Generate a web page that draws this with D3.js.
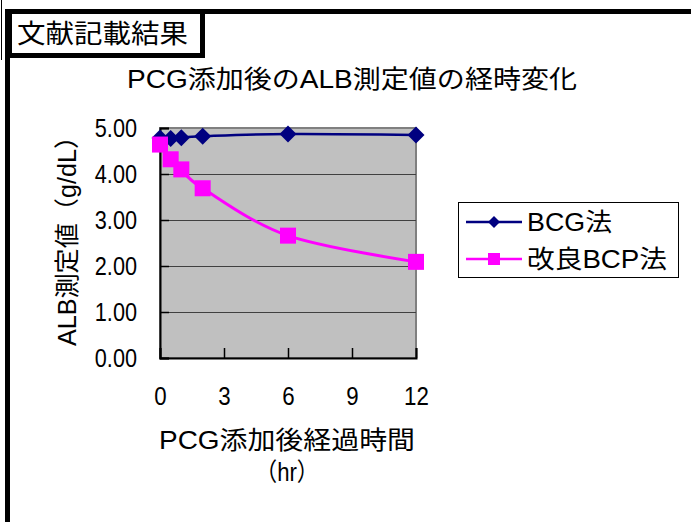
<!DOCTYPE html>
<html>
<head>
<meta charset="utf-8">
<script src="https://cdn.jsdelivr.net/npm/d3@7"></script>
<style>
  html, body { margin: 0; padding: 0; background: #fff; }
  svg { display: block; }
  text { font-family: "Liberation Sans", Arial, "Noto Sans CJK JP", sans-serif; fill: #000; }
</style>
</head>
<body>
<svg id="chart" width="691" height="522"></svg>
<script>
// Elapsed time after PCG addition (hours)
const hours = [0, 0.5, 1, 2, 6, 12];
// ALB measurement (g/dL) for each method
const bcgValues = [4.78, 4.77, 4.79, 4.82, 4.87, 4.85];
const bcpValues = [4.64, 4.32, 4.10, 3.69, 2.66, 2.09];
const seriesNames = ["BCG法", "改良BCP法"];
const yTicks = [0, 1, 2, 3, 4, 5];
const xTicks = [0, 3, 6, 9, 12];
const headerText = "文献記載結果";
const titleText = "PCG添加後のALB測定値の経時変化";
const yTitleText = "ALB測定値（g/dL）";
const xTitleText = "PCG添加後経過時間";
const xUnitText = "（hr）";

const svg = d3.select("#chart");

// page frame: double rule on the left, heavy rule across the top
svg.append("line").attr("x1", 1.5).attr("x2", 1.5).attr("y1", 0).attr("y2", 60)
  .attr("stroke", "#000").attr("stroke-width", 1);
svg.append("rect").attr("x", 5).attr("y", 9).attr("width", 5).attr("height", 513).attr("fill", "#000");
svg.append("rect").attr("x", 5).attr("y", 9).attr("width", 686).attr("height", 5).attr("fill", "#000");

// header box
svg.append("rect").attr("x", 9.5).attr("y", 11.5).attr("width", 193).attr("height", 44)
  .attr("fill", "#fff").attr("stroke", "#000").attr("stroke-width", 5);
svg.append("text").attr("x", 17).attr("y", 43)
  .attr("font-size", 26).attr("textLength", 171).attr("lengthAdjust", "spacingAndGlyphs")
  .text(headerText);

// chart title
svg.append("text").attr("x", 352).attr("y", 88).attr("text-anchor", "middle")
  .attr("font-size", 25).attr("textLength", 450).attr("lengthAdjust", "spacingAndGlyphs")
  .text(titleText);

const x = d3.scaleLinear().domain([0, 12]).range([160, 416]);
const y = d3.scaleLinear().domain([0, 5]).range([358, 128]);

// plot area
svg.append("rect")
  .attr("x", x(0)).attr("y", y(5))
  .attr("width", x(12) - x(0)).attr("height", y(0) - y(5))
  .attr("fill", "#c0c0c0").attr("stroke", "#808080").attr("stroke-width", 2);

// horizontal gridlines
svg.append("g").selectAll("line")
  .data(yTicks.filter(d => d > 0 && d < 5))
  .join("line")
  .attr("x1", x(0)).attr("x2", x(12))
  .attr("y1", d => Math.round(y(d)) + 0.5).attr("y2", d => Math.round(y(d)) + 0.5)
  .attr("stroke", "#404040").attr("stroke-width", 1);

// narrow, tall numerals for the tick labels
function styleTickText(sel) {
  sel.attr("font-size", 25)
    .style("font-family", "'Liberation Sans', Arial, sans-serif")
    .attr("lengthAdjust", "spacingAndGlyphs")
    .attr("textLength", function () {
      const s = this.textContent;
      let w = 0;
      for (const c of s) w += c === "." ? 5 : 12.4;
      return w;
    });
}

// axes with inward ticks
const yAxis = d3.axisLeft(y).tickValues(yTicks).tickFormat(d3.format(".2f"))
  .tickSize(-9).tickPadding(23);
const gy = svg.append("g").attr("transform", `translate(${x(0)},0)`).call(yAxis);
gy.select(".domain").attr("stroke", "#000").attr("stroke-width", 2);
gy.selectAll(".tick line").attr("stroke", "#000").attr("stroke-width", 1.5);
gy.selectAll(".tick text").call(styleTickText);

const xAxis = d3.axisBottom(x).tickValues(xTicks).tickSize(-10).tickPadding(29);
const gx = svg.append("g").attr("transform", `translate(0,${y(0)})`).call(xAxis);
gx.select(".domain").attr("stroke", "#000").attr("stroke-width", 2);
gx.selectAll(".tick line").attr("stroke", "#000").attr("stroke-width", 1.5);
gx.selectAll(".tick text").call(styleTickText);

// axis titles
svg.append("text").attr("transform", "translate(76,235) rotate(-90)")
  .attr("text-anchor", "middle").attr("font-size", 25)
  .attr("textLength", 222).attr("lengthAdjust", "spacingAndGlyphs")
  .text(yTitleText);
svg.append("text").attr("x", 287).attr("y", 449).attr("text-anchor", "middle")
  .attr("font-size", 25).attr("textLength", 256).attr("lengthAdjust", "spacingAndGlyphs")
  .text(xTitleText);
svg.append("text").attr("x", 287).attr("y", 481).attr("text-anchor", "middle")
  .attr("font-size", 25).attr("textLength", 64).attr("lengthAdjust", "spacingAndGlyphs")
  .text(xUnitText);

// series
const colors = ["#000080", "#ff00ff"];
const seriesData = [bcgValues, bcpValues].map(vals => hours.map((h, i) => ({ h, v: vals[i] })));
const line = d3.line().x(d => x(d.h)).y(d => y(d.v)).curve(d3.curveCardinal.tension(0));

const diamond = r => `M0,${-r}L${r},0L0,${r}L${-r},0Z`;

function drawMarker(g, kind, cx, cy, size) {
  if (kind === 0) {
    g.append("path").attr("d", diamond(size / 2))
      .attr("transform", `translate(${cx},${cy})`).attr("fill", colors[0]);
  } else {
    g.append("rect").attr("x", cx - size / 2).attr("y", cy - size / 2)
      .attr("width", size).attr("height", size).attr("fill", colors[1]);
  }
}

seriesData.forEach((pts, k) => {
  const g = svg.append("g");
  g.append("path").datum(pts).attr("d", line)
    .attr("fill", "none").attr("stroke", colors[k]).attr("stroke-width", k === 0 ? 2.5 : 3);
  pts.forEach(p => drawMarker(g, k, x(p.h), y(p.v), k === 0 ? 17 : 16));
});

// legend
const lg = svg.append("g");
lg.append("rect").attr("x", 458.5).attr("y", 202.5).attr("width", 220).attr("height", 75)
  .attr("fill", "#fff").attr("stroke", "#000").attr("stroke-width", 1);
const legendRows = [222, 259];
const legendWidths = [85, 140];
seriesNames.forEach((name, k) => {
  const ly = legendRows[k];
  lg.append("line").attr("x1", 466).attr("x2", 522).attr("y1", ly).attr("y2", ly)
    .attr("stroke", colors[k]).attr("stroke-width", 2.5);
  drawMarker(lg, k, 494, ly, 12);
  lg.append("text").attr("x", 527).attr("y", ly + 9)
    .attr("font-size", 25).attr("textLength", legendWidths[k]).attr("lengthAdjust", "spacingAndGlyphs")
    .text(name);
});
</script>
</body>
</html>
